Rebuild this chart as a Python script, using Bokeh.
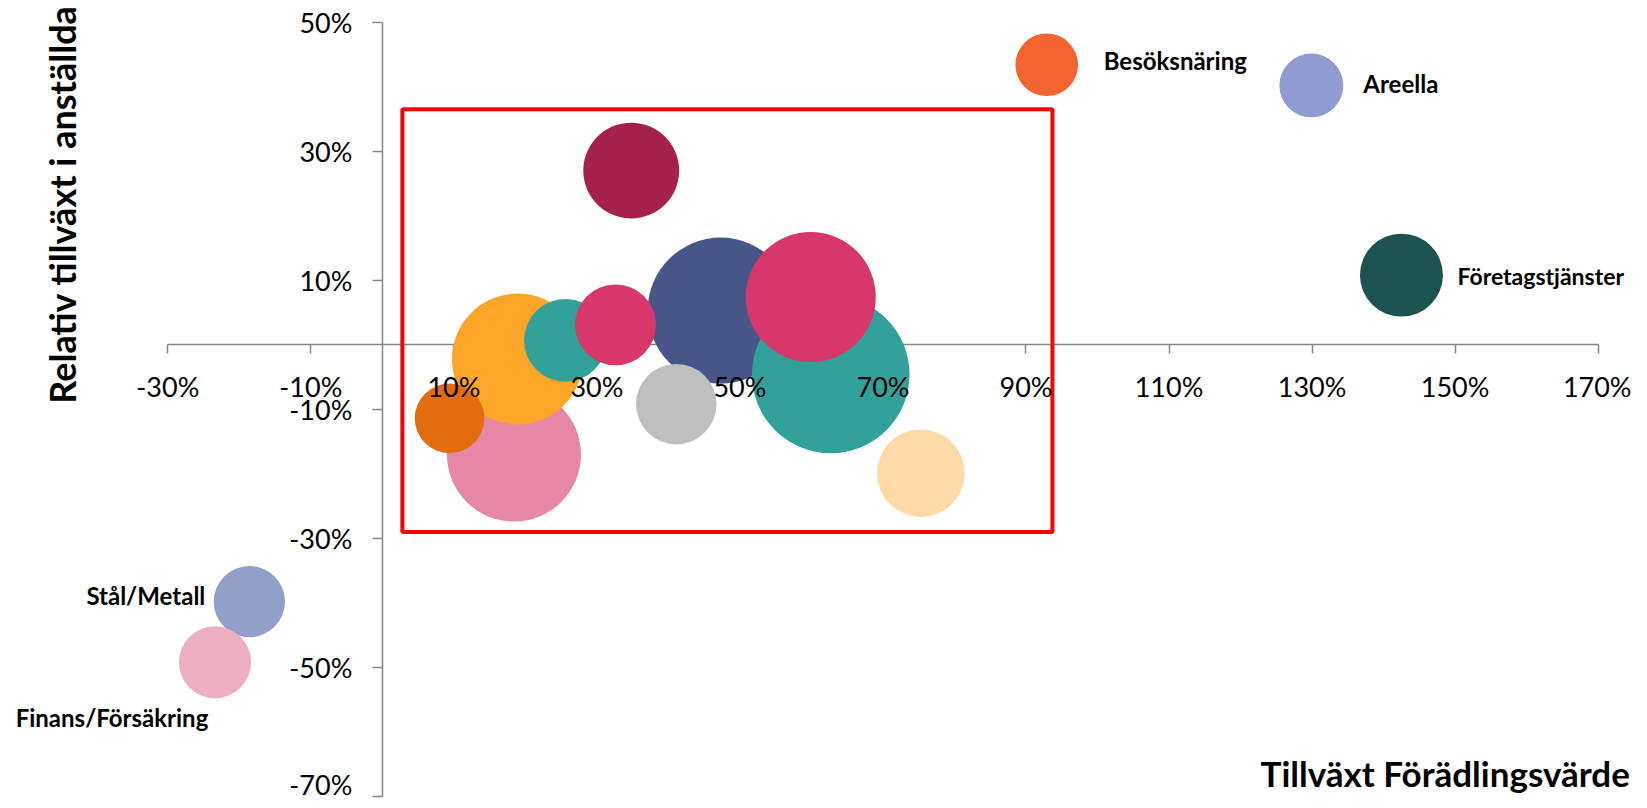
import math
from bokeh.plotting import figure
from bokeh.models import LinearAxis, FixedTicker, Label, Range1d, ColumnDataSource
from bokeh.embed import file_html
from bokeh.resources import INLINE

# ---- data ----
x_growth = [18.4, 18.9, 9.4, 25.6, 47.3, 32.6, 41.1, 62.7, 59.9, 34.8, 75.3,
            92.9, 129.9, 142.5, -18.6, -23.4]
y_growth = [-17.0, -2.2, -11.4, 0.7, 5.3, 3.1, -9.2, -4.6, 7.4, 27.0, -19.9,
            43.4, 40.2, 10.8, -39.8, -49.2]
bubble_value = [44.9, 42.9, 12.1, 17.1, 53.3, 16.4, 16.2, 62.1, 42.3, 23.0, 19.1,
                9.8, 10.2, 17.2, 12.7, 13.0]
names = ["", "", "", "", "", "", "", "", "", "", "",
         "Besöksnäring", "Areella", "Företagstjänster", "Stål/Metall", "Finans/Försäkring"]
colors = ["#E688A3", "#FDA527", "#E36C0E", "#32A199", "#475686", "#D8376A", "#BFBFBF",
          "#32A199", "#D8376A", "#A5214B", "#FFDAA8",
          "#F26430", "#8F9BD1", "#1C5250", "#929FC9", "#EDAEC0"]

x_ticks = [-30, -10, 10, 30, 50, 70, 90, 110, 130, 150, 170]
x_tick_labels = ["-30%", "-10%", "10%", "30%", "50%", "70%", "90%", "110%", "130%", "150%", "170%"]
y_ticks = [-70, -50, -30, -10, 10, 30, 50]
y_tick_labels = ["-70%", "-50%", "-30%", "-10%", "10%", "30%", "50%"]
x_axis_bounds = (-30, 170)
y_axis_bounds = (-70, 50)

box_left, box_right, box_bottom, box_top = [2.8], [93.7], [-29.0], [36.5]

FONT = "Lato"

# layout: the plotting frame covers the whole canvas; axes sit at fixed locations
W, H = 1631, 800
XPX = 7.1515   # px per percentage point (x)
YPX = 6.4525   # px per percentage point (y)
x_start = x_axis_bounds[0] - 167.3 / XPX
x_end = x_start + W / XPX
y_end = y_axis_bounds[1] + 21.7 / YPX
y_start = y_end - H / YPX

p = figure(width=W, height=H, x_range=Range1d(x_start, x_end), y_range=Range1d(y_start, y_end),
           output_backend="svg", toolbar_location=None,
           x_axis_location=None, y_axis_location=None,
           min_border=0, min_border_left=0, min_border_right=0,
           min_border_top=0, min_border_bottom=0)
p.outline_line_color = None
p.xgrid.visible = False
p.ygrid.visible = False
p.background_fill_color = "white"

# axis lines + ticks (under bubbles)
xline = LinearAxis(fixed_location=0, ticker=FixedTicker(ticks=x_ticks), bounds=x_axis_bounds,
                   axis_line_color="#868686", axis_line_width=1.5,
                   major_tick_line_color="#868686", major_tick_line_width=1.5,
                   major_tick_out=9, major_tick_in=0, minor_tick_out=0, minor_tick_in=0,
                   major_label_text_alpha=0, level="underlay")
p.add_layout(xline, "below")
yline = LinearAxis(fixed_location=0, ticker=FixedTicker(ticks=y_ticks), bounds=y_axis_bounds,
                   axis_line_color="#868686", axis_line_width=1.5,
                   major_tick_line_color="#868686", major_tick_line_width=1.5,
                   major_tick_out=10, major_tick_in=0, minor_tick_out=0, minor_tick_in=0,
                   major_label_text_alpha=0, level="underlay")
p.add_layout(yline, "left")

# tick labels (above bubbles)
xlab = LinearAxis(fixed_location=0, ticker=FixedTicker(ticks=x_ticks),
                  axis_line_color=None, major_tick_line_color=None, minor_tick_line_color=None,
                  major_tick_out=0, major_tick_in=0, minor_tick_out=0, minor_tick_in=0,
                  major_label_overrides=dict(zip(x_ticks, x_tick_labels)),
                  major_label_standoff=25, major_label_text_font=FONT,
                  major_label_text_font_size="27px", major_label_text_color="black",
                  level="overlay")
p.add_layout(xlab, "below")
ylab = LinearAxis(fixed_location=0, ticker=FixedTicker(ticks=y_ticks),
                  axis_line_color=None, major_tick_line_color=None, minor_tick_line_color=None,
                  major_tick_out=0, major_tick_in=0, minor_tick_out=0, minor_tick_in=0,
                  major_label_overrides=dict(zip(y_ticks, y_tick_labels)),
                  major_label_standoff=30, major_label_text_font=FONT,
                  major_label_text_font_size="27px", major_label_text_color="black",
                  level="overlay")
p.add_layout(ylab, "left")

# bubbles
diam = [20 * math.sqrt(v) for v in bubble_value]
src = ColumnDataSource(dict(x=x_growth, y=y_growth, d=diam, c=colors))
p.scatter("x", "y", size="d", marker="circle", fill_color="c", line_color=None, source=src)

# red box
p.quad(left=box_left, right=box_right, bottom=box_bottom, top=box_top,
       fill_alpha=0, line_color="#FF0000", line_width=4)

# bubble labels
label_style = {
    "Besöksnäring": dict(x_offset=57, y_offset=4, text_align="left", text_font_size="24px"),
    "Areella": dict(x_offset=52, y_offset=2, text_align="left", text_font_size="24px"),
    "Företagstjänster": dict(x_offset=56, y_offset=-1, text_align="left", text_font_size="23px"),
    "Stål/Metall": dict(x_offset=-44, y_offset=6, text_align="right", text_font_size="24px"),
    "Finans/Försäkring": dict(x_offset=-103, y_offset=-55, text_align="center", text_font_size="24px"),
}
for xv, yv, nm in zip(x_growth, y_growth, names):
    if nm:
        p.add_layout(Label(x=xv, y=yv, text=nm, text_baseline="middle",
                           text_font=FONT, text_font_style="bold",
                           text_color="black", **label_style[nm]))

# axis titles
p.add_layout(Label(x=-44.86, y=21.75, text="Relativ tillväxt i anställda", angle=math.pi / 2,
                   text_align="center", text_baseline="middle", text_font=FONT,
                   text_font_style="bold", text_font_size="36px", text_color="black"))
p.add_layout(Label(x=174.45, y=-66.3, text="Tillväxt Förädlingsvärde",
                   text_align="right", text_baseline="alphabetic", text_font=FONT,
                   text_font_style="bold", text_font_size="35px", text_color="black"))

open("out.html", "w").write(file_html(p, INLINE))
